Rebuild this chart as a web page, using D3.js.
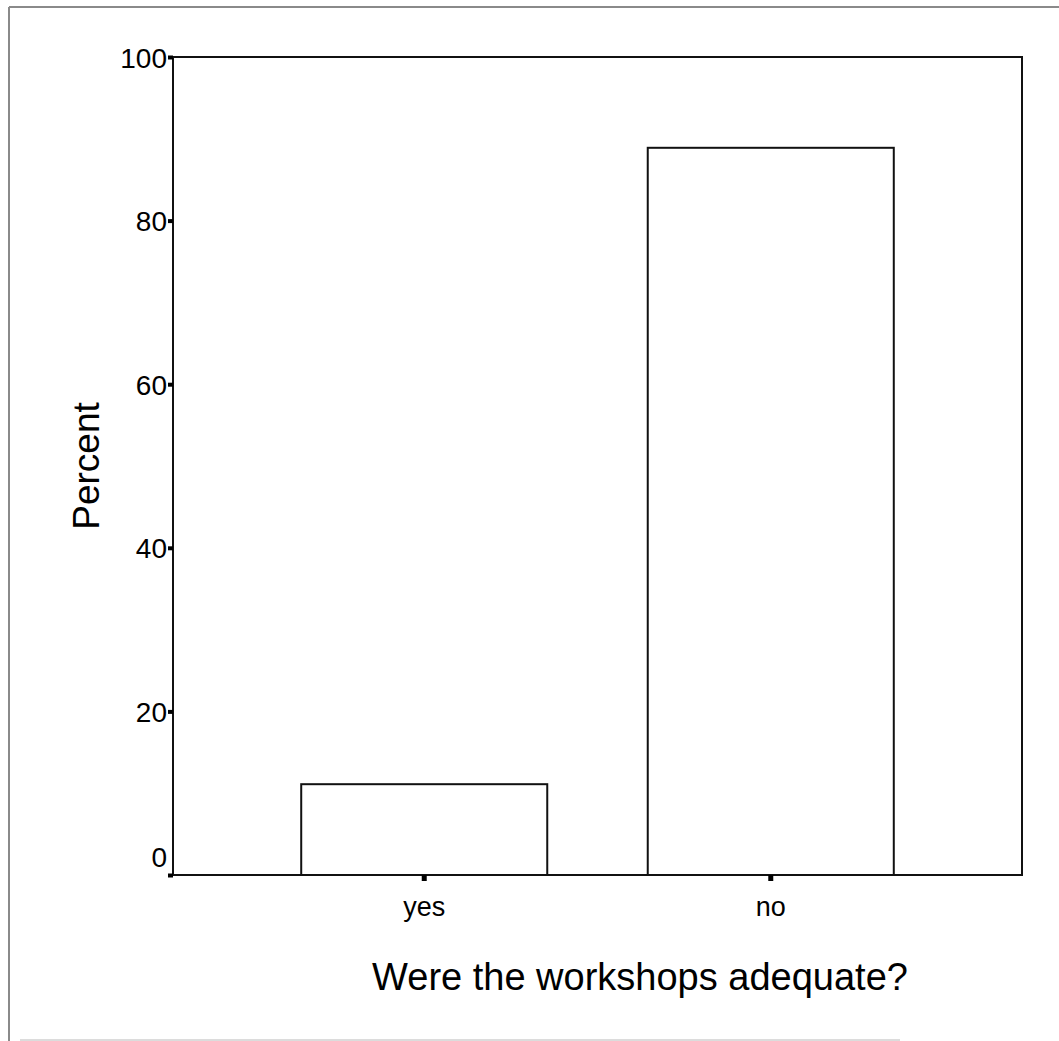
<!DOCTYPE html>
<html>
<head>
<meta charset="utf-8">
<script src="https://cdn.jsdelivr.net/npm/d3@7"></script>
<style>
  html, body { margin: 0; padding: 0; background: #fff; }
  svg { display: block; }
  text { font-family: Arial, "Liberation Sans", sans-serif; fill: #000; }
</style>
</head>
<body>
<script>
const categories = ["yes", "no"];
const percentValues = [11.1, 88.9];
const yTickValues = [0, 20, 40, 60, 80, 100];
const yTickLabels = ["0", "20", "40", "60", "80", "100"];
const xAxisTitle = "Were the workshops adequate?";
const yAxisTitle = "Percent";

const W = 1059, H = 1041;
const svg = d3.select("body").append("svg").attr("width", W).attr("height", H);

// outer scanned frame
svg.append("line").attr("x1", 9).attr("y1", 7).attr("x2", W).attr("y2", 7)
  .attr("stroke", "#8a8a8a").attr("stroke-width", 2);
svg.append("line").attr("x1", 9).attr("y1", 7).attr("x2", 9).attr("y2", H)
  .attr("stroke", "#8a8a8a").attr("stroke-width", 2);
svg.append("line").attr("x1", 20).attr("y1", 1040).attr("x2", 900).attr("y2", 1040)
  .attr("stroke", "#dcdcdc").attr("stroke-width", 2);

const plot = { left: 173, top: 57, right: 1022, bottom: 875 };

const x = d3.scaleBand().domain(categories)
  .range([plot.left, plot.right]).paddingInner(0.29).paddingOuter(0.37);
const y = d3.scaleLinear().domain([0, 100]).range([plot.bottom, plot.top]);

// plot frame
svg.append("rect")
  .attr("x", plot.left).attr("y", plot.top)
  .attr("width", plot.right - plot.left).attr("height", plot.bottom - plot.top)
  .attr("fill", "none").attr("stroke", "#111").attr("stroke-width", 2);

// bars
svg.selectAll("rect.bar").data(categories).enter().append("rect")
  .attr("class", "bar")
  .attr("x", d => x(d))
  .attr("width", x.bandwidth())
  .attr("y", (d, i) => y(percentValues[i]))
  .attr("height", (d, i) => y(0) - y(percentValues[i]))
  .attr("fill", "#fff").attr("stroke", "#111").attr("stroke-width", 2);

// y axis
const yAxis = d3.axisLeft(y).tickValues(yTickValues)
  .tickFormat((d, i) => yTickLabels[i]).tickSize(5).tickPadding(1);
const gy = svg.append("g").attr("transform", `translate(${plot.left},0)`).call(yAxis);
gy.select(".domain").remove();
gy.selectAll(".tick line").attr("stroke", "#000").attr("stroke-width", 4);
gy.selectAll(".tick text").style("font-size", "28px")
  .attr("dy", (d) => d === 0 ? "-0.3em" : "0.36em");

// x axis
const xAxis = d3.axisBottom(x).tickSize(6).tickPadding(16);
const gx = svg.append("g").attr("transform", `translate(0,${plot.bottom})`).call(xAxis);
gx.select(".domain").remove();
gx.selectAll(".tick line").attr("stroke", "#000").attr("stroke-width", 5);
gx.selectAll(".tick text").style("font-size", "27px");

// axis titles
svg.append("text")
  .attr("x", 640)
  .attr("y", 990)
  .attr("text-anchor", "middle")
  .style("font-size", "38px")
  .text(xAxisTitle);

svg.append("text")
  .attr("transform", `translate(99,${(plot.top + plot.bottom) / 2}) rotate(-90)`)
  .attr("text-anchor", "middle")
  .style("font-size", "37px")
  .text(yAxisTitle);
</script>
</body>
</html>
